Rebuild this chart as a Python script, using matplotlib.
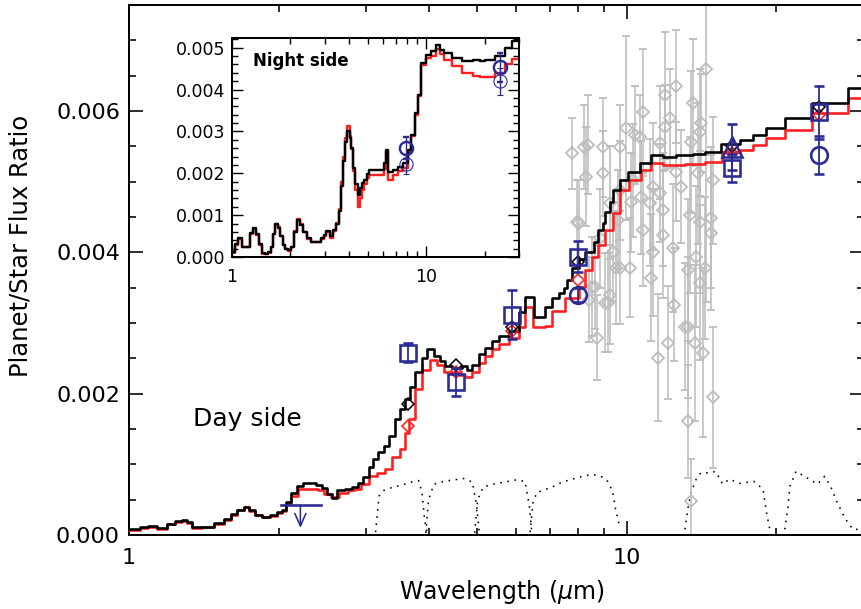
import matplotlib
matplotlib.use("Agg")
import matplotlib.pyplot as plt
from matplotlib.ticker import FixedLocator, MultipleLocator, FormatStrFormatter, NullFormatter

plt.rcParams["font.family"] = ["DejaVu Sans"]

# ---------------- data ----------------
# Day-side model spectra (left edge of each spectral bin, planet/star flux ratio)
day_wl = [1.00, 1.05, 1.09, 1.14, 1.19, 1.24, 1.28, 1.31, 1.34, 1.40, 1.48, 1.55,
          1.60, 1.65, 1.70, 1.74, 1.79, 1.85, 1.92, 1.98, 2.03, 2.07, 2.12, 2.18,
          2.24, 2.32, 2.38, 2.44, 2.50, 2.56, 2.62, 2.72, 2.80, 2.88, 2.95, 3.03,
          3.10, 3.17, 3.25, 3.33, 3.42, 3.50, 3.58, 3.67, 3.75, 3.88, 3.97, 4.10,
          4.22, 4.32, 4.46, 4.67, 4.78, 4.89, 5.05, 5.20, 5.37, 5.55, 5.81, 6.08,
          6.25, 6.52, 6.87, 7.09, 7.32, 7.50, 7.60, 7.78, 8.04, 8.26, 8.61, 8.75,
          8.95, 9.05, 9.28, 9.40, 9.68, 10.05, 10.62, 11.17, 11.82, 12.56, 13.59, 14.37,
          15.50, 16.91, 17.95, 19.06, 20.83, 23.60, 27.80, 31.00]
day_model_black = [0.00008, 0.00011, 0.00013, 0.00010, 0.00016, 0.00020, 0.00021, 0.00018,
                   0.00011, 0.00012, 0.00017, 0.00022, 0.00030, 0.00036, 0.00040, 0.00035,
                   0.00029, 0.00026, 0.00028, 0.00032, 0.00035, 0.00046, 0.00060, 0.00070,
                   0.00073, 0.00073, 0.00071, 0.00066, 0.00058, 0.00052, 0.00063, 0.00065,
                   0.00068, 0.00074, 0.00082, 0.00096, 0.00107, 0.00118, 0.00126, 0.00140,
                   0.00164, 0.00178, 0.00192, 0.00209, 0.00231, 0.00251, 0.00263, 0.00253,
                   0.00246, 0.00239, 0.00237, 0.00239, 0.00234, 0.00241, 0.00256, 0.00265,
                   0.00274, 0.00281, 0.00288, 0.00316, 0.00337, 0.00309, 0.00323, 0.00336,
                   0.00343, 0.00350, 0.00361, 0.00378, 0.00390, 0.00401, 0.00415, 0.00432,
                   0.00442, 0.00457, 0.00471, 0.00488, 0.00503, 0.00514, 0.00527, 0.00538,
                   0.00535, 0.00538, 0.00539, 0.00542, 0.00553, 0.00559, 0.00566, 0.00576,
                   0.00590, 0.00611, 0.00632, 0.00632]

day_wl_red = [1.00, 1.05, 1.09, 1.14, 1.19, 1.24, 1.28, 1.31, 1.34, 1.40, 1.48, 1.55,
              1.60, 1.65, 1.70, 1.74, 1.79, 1.85, 1.92, 1.98, 2.03, 2.07, 2.12, 2.19,
              2.30, 2.40, 2.47, 2.55, 2.64, 2.75, 2.84, 2.93, 3.03, 3.15, 3.27, 3.37,
              3.50, 3.58, 3.66, 3.75, 3.88, 4.03, 4.16, 4.30, 4.46, 4.60, 4.74, 4.89,
              5.05, 5.20, 5.37, 5.55, 5.81, 6.09, 6.25, 6.50, 6.87, 7.09, 7.53, 8.04,
              8.26, 8.54, 8.76, 9.05, 9.37, 9.72, 10.10, 10.67, 11.17, 11.82, 13.10, 14.37,
              15.55, 16.91, 17.95, 19.06, 20.83, 23.60, 27.90, 31.00]
day_model_red = [0.00007, 0.00010, 0.00012, 0.00009, 0.00015, 0.00019, 0.00020, 0.00017,
                 0.00010, 0.00011, 0.00016, 0.00021, 0.00029, 0.00035, 0.00039, 0.00034,
                 0.00028, 0.00025, 0.00027, 0.00031, 0.00034, 0.00044, 0.00055, 0.00065,
                 0.00065, 0.00063, 0.00058, 0.00054, 0.00060, 0.00063, 0.00065, 0.00072,
                 0.00083, 0.00088, 0.00093, 0.00111, 0.00121, 0.00145, 0.00164, 0.00206,
                 0.00234, 0.00248, 0.00241, 0.00231, 0.00230, 0.00226, 0.00224, 0.00231,
                 0.00244, 0.00253, 0.00263, 0.00270, 0.00279, 0.00295, 0.00322, 0.00295,
                 0.00296, 0.00317, 0.00336, 0.00351, 0.00375, 0.00394, 0.00411, 0.00432,
                 0.00456, 0.00488, 0.00502, 0.00517, 0.00526, 0.00524, 0.00525, 0.00528,
                 0.00542, 0.00545, 0.00552, 0.00562, 0.00573, 0.00597, 0.00618, 0.00618]

# Night-side model spectra (inset)
night_wl = [1.00, 1.04, 1.08, 1.12, 1.19, 1.24, 1.29, 1.33, 1.37, 1.42, 1.48, 1.53,
            1.58, 1.63, 1.67, 1.72, 1.77, 1.82, 1.88, 1.95, 2.02, 2.09, 2.16, 2.24,
            2.32, 2.42, 2.54, 2.75, 2.86, 2.96, 3.05, 3.18, 3.30, 3.42, 3.55, 3.65,
            3.72, 3.82, 3.93, 4.03, 4.12, 4.22, 4.32, 4.43, 4.55, 4.65, 4.80, 4.95,
            5.10, 5.40, 5.84, 6.08, 6.20, 6.33, 6.72, 7.13, 7.57, 8.04, 8.36, 8.70,
            9.06, 9.42, 10.0, 10.6, 11.27, 11.7, 12.4, 13.5, 15.2, 17.4, 18.9, 20.0,
            22.6, 25.5, 27.6, 31.0]
night_model_black = [0.00012, 0.00030, 0.00045, 0.00025, 0.00025, 0.00057, 0.00069, 0.00055,
                     0.00030, 0.00010, 0.00008, 0.00012, 0.00025, 0.00055, 0.00078, 0.00070,
                     0.00050, 0.00029, 0.00020, 0.00017, 0.00025, 0.00060, 0.00089, 0.00077,
                     0.00060, 0.00045, 0.00037, 0.00037, 0.00045, 0.00052, 0.00062, 0.00049,
                     0.00065, 0.00080, 0.00110, 0.00170, 0.00230, 0.00275, 0.00302, 0.00285,
                     0.00260, 0.00212, 0.00175, 0.00148, 0.00165, 0.00176, 0.00184, 0.00198,
                     0.00208, 0.00207, 0.00208, 0.00224, 0.00255, 0.00204, 0.00208, 0.00216,
                     0.00224, 0.00256, 0.00292, 0.00344, 0.00388, 0.00463, 0.00483, 0.00491,
                     0.00507, 0.00495, 0.00487, 0.00475, 0.00467, 0.00471, 0.00467, 0.00471,
                     0.00479, 0.00499, 0.00515, 0.00515]
night_model_red = [0.00010, 0.00028, 0.00043, 0.00023, 0.00023, 0.00055, 0.00068, 0.00053,
                   0.00028, 0.00008, 0.00006, 0.00010, 0.00023, 0.00054, 0.00080, 0.00071,
                   0.00050, 0.00028, 0.00018, 0.00015, 0.00024, 0.00062, 0.00091, 0.00078,
                   0.00060, 0.00044, 0.00035, 0.00035, 0.00043, 0.00050, 0.00060, 0.00046,
                   0.00063, 0.00082, 0.00115, 0.00178, 0.00240, 0.00285, 0.00312, 0.00290,
                   0.00258, 0.00205, 0.00160, 0.00120, 0.00140, 0.00160, 0.00175, 0.00188,
                   0.00195, 0.00196, 0.00196, 0.00210, 0.00250, 0.00184, 0.00196, 0.00206,
                   0.00212, 0.00250, 0.00288, 0.00340, 0.00385, 0.00458, 0.00475, 0.00481,
                   0.00497, 0.00485, 0.00470, 0.00455, 0.00439, 0.00433, 0.00431, 0.00431,
                   0.00440, 0.00460, 0.00472, 0.00475]

# Spectrograph measurements (grey)
irs_wl = [14.43, 12.56, 11.93, 13.59, 10.77, 12.21, 9.95, 14.10, 7.78, 8.23, 8.36, 8.95,
          9.72, 10.38, 10.62, 11.66, 11.93, 13.46, 14.03, 8.95, 8.27, 10.28, 11.28, 12.56,
          13.90, 14.90, 9.68, 10.67, 11.66, 12.85, 10.19, 11.13, 9.24, 7.96, 11.82, 13.40,
          14.77, 10.77, 11.82, 14.03, 9.37, 11.28, 12.38, 13.78, 14.77, 8.54, 9.50, 10.14,
          11.17, 13.27, 14.03, 14.37, 9.24, 9.16, 8.74, 12.44, 11.55, 12.10, 13.09, 13.27,
          13.71, 14.23, 14.90, 13.27, 13.46, 8.04, 8.86, 9.59, 9.68, 8.65, 9.07, 8.40]
irs_flux = [0.00660, 0.00635, 0.00622, 0.00612, 0.00598, 0.00590, 0.00576, 0.00583, 0.00540,
            0.00549, 0.00552, 0.00549, 0.00549, 0.00566, 0.00563, 0.00555, 0.00577, 0.00556,
            0.00570, 0.00512, 0.00507, 0.00502, 0.00493, 0.00514, 0.00512, 0.00502, 0.00488,
            0.00478, 0.00484, 0.00493, 0.00471, 0.00470, 0.00470, 0.00443, 0.00460, 0.00453,
            0.00449, 0.00432, 0.00425, 0.00443, 0.00401, 0.00400, 0.00406, 0.00394, 0.00428,
            0.00351, 0.00378, 0.00378, 0.00364, 0.00375, 0.00357, 0.00378, 0.00340, 0.00329,
            0.00279, 0.00326, 0.00251, 0.00272, 0.00295, 0.00294, 0.00272, 0.00258, 0.00195,
            0.00161, 0.00048, 0.00442, 0.00420, 0.00446, 0.00378, 0.00351, 0.00329, 0.00333]
irs_err = [0.0033, 0.0008, 0.0009, 0.0009, 0.0009, 0.0007, 0.0013, 0.0007, 0.0005,
           0.0006, 0.0007, 0.0007, 0.0006, 0.0007, 0.0006, 0.0008, 0.0006, 0.0010,
           0.0009, 0.0006, 0.0007, 0.0008, 0.0009, 0.0007, 0.0010, 0.0009, 0.0007,
           0.0008, 0.0007, 0.0008, 0.0007, 0.0009, 0.0008, 0.0006, 0.0008, 0.0011,
           0.0010, 0.0008, 0.0009, 0.0010, 0.0007, 0.0009, 0.0009, 0.0010, 0.0011,
           0.0007, 0.0008, 0.0007, 0.0009, 0.0010, 0.0011, 0.0010, 0.0007, 0.0007,
           0.0006, 0.0008, 0.0009, 0.0008, 0.0009, 0.0010, 0.0011, 0.0012, 0.0010,
           0.0008, 0.0006, 0.0006, 0.0007, 0.0007, 0.0008, 0.0006, 0.0007, 0.0006]

# Broadband photometry (blue)
sq_wl = [3.63, 4.55, 5.88, 7.97, 16.3, 24.4]
sq_flux = [0.00258, 0.00217, 0.00312, 0.00394, 0.00519, 0.00598]
sq_err = [0.00013, 0.00020, 0.00034, 0.00022, 0.00020, 0.00038]
circ_wl = [7.97, 24.4]
circ_flux = [0.00340, 0.00538]
circ_err = [0.00010, 0.00027]
tri_wl = [16.3]
tri_flux = [0.00549]
tri_err = [0.00032]

# Ks-band upper limit
ks_band = [2.02, 2.43]
ks_center = 2.21
ks_limit = 0.00042
ks_arrow_tip = 0.00010

# Band-integrated model fluxes
band_wl = [3.63, 4.55, 5.88, 7.97, 16.3, 24.4]
band_black = [0.00185, 0.00241, 0.00295, 0.00387, 0.00550, 0.00606]
band_red = [0.00154, 0.00230, 0.00288, 0.00361, 0.00540, 0.00594]

# Filter response curves (scaled)
filters = [
    ([3.13, 3.18, 3.25, 3.40, 3.55, 3.70, 3.82, 3.88, 3.93, 3.97],
     [0.00004, 0.00055, 0.00063, 0.00068, 0.00071, 0.00075, 0.00077, 0.00060, 0.00020, 0.00003]),
    ([3.95, 4.00, 4.10, 4.30, 4.50, 4.70, 4.90, 5.00, 5.06],
     [0.00003, 0.00050, 0.00072, 0.00076, 0.00078, 0.00080, 0.00075, 0.00040, 0.00003]),
    ([4.95, 5.02, 5.15, 5.40, 5.70, 6.00, 6.25, 6.38, 6.45],
     [0.00003, 0.00050, 0.00068, 0.00072, 0.00075, 0.00078, 0.00076, 0.00040, 0.00003]),
    ([6.40, 6.48, 6.60, 7.09, 7.43, 7.78, 8.15, 8.54, 8.94, 9.16, 9.37, 9.50, 9.69],
     [0.00004, 0.00045, 0.00060, 0.00068, 0.00075, 0.00079, 0.00083, 0.00086, 0.00082,
      0.00076, 0.00062, 0.00037, 0.00011]),
    ([13.1, 13.3, 13.5, 13.8, 14.1, 14.7, 15.1, 15.6, 16.1, 16.9, 18.0, 18.8, 19.1, 19.4],
     [0.00008, 0.00040, 0.00062, 0.00079, 0.00088, 0.00088, 0.00090, 0.00072, 0.00079,
      0.00073, 0.00076, 0.00065, 0.00032, 0.00008]),
    ([20.8, 21.1, 21.3, 21.9, 22.9, 24.2, 25.0, 25.7, 26.5, 27.5, 28.5, 29.5],
     [0.00008, 0.00040, 0.00069, 0.00090, 0.00082, 0.00072, 0.00083, 0.00069, 0.00046,
      0.00023, 0.00008, 0.00008]),
]

# Night-side photometry (inset)
night_thick_wl = [7.88, 24.0]
night_thick_flux = [0.00260, 0.00453]
night_thick_err = [0.00026, 0.00034]
night_thin_wl = [7.88, 24.0]
night_thin_flux = [0.00222, 0.00420]
night_thin_err = [0.00023, 0.00032]

# ---------------- figure ----------------
W, H = 862, 609
PX = 0.72  # points per pixel at 100 dpi
BLUE = "#2b2b96"
GREY = "#bdbdbd"
RED = "#ff1f1f"

fig = plt.figure(figsize=(W / 100, H / 100), dpi=100)
ax = fig.add_axes([129 / W, (H - 535) / H, (864 - 129) / W, 530 / H])

ax.set_xscale("log")
ax.set_xlim(1, 30)
ax.set_ylim(0, 0.0075)

# filter transmission curves
for fw, ff in filters:
    ax.plot(fw, ff, color="black", lw=1.6 * PX, ls=(0, (1, 3.5)), zorder=1)

# spectrograph points
ax.errorbar(irs_wl, irs_flux, yerr=irs_err, fmt="D", ms=6.2, mfc="none", mec=GREY,
            mew=1.8 * PX, ecolor=GREY, elinewidth=1.6 * PX, capsize=3.0,
            capthick=1.6 * PX, zorder=2)

# models
ax.plot(day_wl_red, day_model_red, drawstyle="steps-post", color=RED, lw=2.6 * PX, zorder=3)
ax.plot(day_wl, day_model_black, drawstyle="steps-post", color="black", lw=2.6 * PX, zorder=4)

# band-integrated model points
ax.plot(band_wl, band_red, "D", ms=6.6, mfc="none", mec=RED, mew=1.6 * PX, zorder=5)
ax.plot(band_wl, band_black, "D", ms=6.6, mfc="none", mec="black", mew=1.6 * PX, zorder=5)

# photometry
eb_kw = dict(mfc="none", mec=BLUE, ecolor=BLUE, elinewidth=1.8 * PX, capsize=3.8,
             capthick=1.8 * PX, zorder=6)
ax.errorbar(sq_wl, sq_flux, yerr=sq_err, fmt="s", ms=12, mew=2.6 * PX, **eb_kw)
ax.errorbar(circ_wl, circ_flux, yerr=circ_err, fmt="o", ms=12, mew=2.6 * PX, **eb_kw)
ax.errorbar(tri_wl, tri_flux, yerr=tri_err, fmt="^", ms=14, mew=2.6 * PX, **eb_kw)

# Ks upper limit
ax.plot(ks_band, [ks_limit, ks_limit], color=BLUE, lw=2.6 * PX, zorder=6)
ax.annotate("", xy=(ks_center, ks_arrow_tip), xytext=(ks_center, ks_limit),
            arrowprops=dict(arrowstyle="->,head_length=0.9,head_width=0.4",
                            color=BLUE, lw=1.6 * PX, shrinkA=0, shrinkB=0), zorder=6)

ax.text(0.161, 0.219, "Day side", transform=ax.transAxes, fontsize=18,
        ha="center", va="center")

# axes styling
for s in ax.spines.values():
    s.set_linewidth(2.0 * PX)
ax.xaxis.set_major_locator(FixedLocator([1, 10]))
ax.xaxis.set_major_formatter(FormatStrFormatter("%d"))
ax.xaxis.set_minor_locator(FixedLocator([2, 3, 4, 5, 6, 7, 8, 9, 20, 30]))
ax.xaxis.set_minor_formatter(NullFormatter())
ax.yaxis.set_major_locator(MultipleLocator(0.002))
ax.yaxis.set_major_formatter(FormatStrFormatter("%.3f"))
ax.yaxis.set_minor_locator(MultipleLocator(0.0005))
ax.tick_params(which="both", direction="in", top=True, right=True, labelsize=16,
               width=1.6 * PX)
ax.tick_params(which="major", length=10 * PX * 1.4)
ax.tick_params(which="minor", length=5 * PX * 1.4)
ax.tick_params(axis="y", pad=6.5)
ax.tick_params(axis="x", pad=9)

ax.set_xlabel("Wavelength ($\\mu$m)", fontsize=17)
ax.xaxis.set_label_coords(0.507, -0.108)
ax.xaxis.label.set_va("center")
ax.set_ylabel("Planet/Star Flux Ratio", fontsize=17.5)
ax.yaxis.set_label_coords(-0.148, 0.545)
ax.yaxis.label.set_va("center")

fig.canvas.draw()
ax.yaxis.get_major_ticks()[0].label1.set_va("bottom")

# ---------------- inset: night side ----------------
ins = fig.add_axes([232 / W, (H - 257) / H, 287 / W, 219 / H])
ins.set_xscale("log")
ins.set_xlim(1, 30)
ins.set_ylim(0, 0.00523)
ins.plot(night_wl, night_model_red, drawstyle="steps-post", color=RED, lw=2.4 * PX)
ins.plot(night_wl, night_model_black, drawstyle="steps-post", color="black", lw=2.4 * PX)
ins.errorbar(night_thin_wl, night_thin_flux, yerr=night_thin_err, fmt="o", ms=9.5,
             mfc="none", mec=BLUE, mew=1.1 * PX, ecolor=BLUE, elinewidth=1.4 * PX,
             capsize=2.0, capthick=1.4 * PX, zorder=5)
ins.errorbar(night_thick_wl, night_thick_flux, yerr=night_thick_err, fmt="o", ms=9.5,
             mfc="none", mec=BLUE, mew=2.4 * PX, ecolor=BLUE, elinewidth=1.4 * PX,
             capsize=2.0, capthick=1.4 * PX, zorder=6)
ins.text(0.073, 0.895, "Night side", transform=ins.transAxes, fontsize=12,
         fontweight="bold", ha="left", va="center")

for s in ins.spines.values():
    s.set_linewidth(2.0 * PX)
ins.xaxis.set_major_locator(FixedLocator([1, 10]))
ins.xaxis.set_major_formatter(FormatStrFormatter("%d"))
ins.xaxis.set_minor_locator(FixedLocator([2, 3, 4, 5, 6, 7, 8, 9, 20, 30]))
ins.xaxis.set_minor_formatter(NullFormatter())
ins.yaxis.set_major_locator(MultipleLocator(0.001))
ins.yaxis.set_major_formatter(FormatStrFormatter("%.3f"))
ins.yaxis.set_minor_locator(MultipleLocator(0.0002))
ins.tick_params(which="both", direction="in", top=True, right=True, labelsize=12.5,
                width=1.4 * PX)
ins.tick_params(which="major", length=8 * PX * 1.4)
ins.tick_params(which="minor", length=4 * PX * 1.4)
ins.tick_params(axis="y", pad=5)
ins.tick_params(axis="x", pad=8)
fig.canvas.draw()
ins.yaxis.get_major_ticks()[0].label1.set_va("bottom")

fig.savefig("out.png", dpi=100)
